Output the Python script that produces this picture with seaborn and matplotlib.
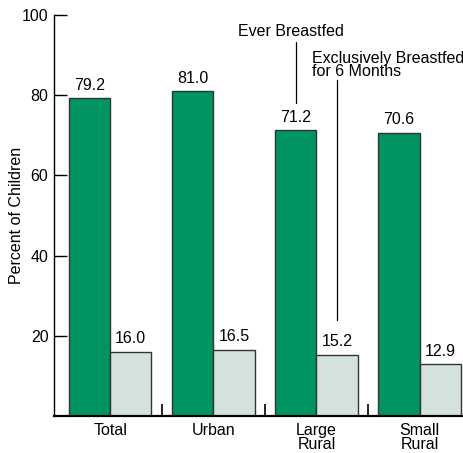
import matplotlib
matplotlib.use("Agg")
import matplotlib.pyplot as plt
import seaborn as sns
import pandas as pd

categories = ["Total", "Urban", "Large\nRural", "Small\nRural"]
ever_breastfed = [79.2, 81.0, 71.2, 70.6]
exclusive_6mo = [16.0, 16.5, 15.2, 12.9]
series_names = ["Ever Breastfed", "Exclusively Breastfed\nfor 6 Months"]
y_ticks = [20, 40, 60, 80, 100]

sns.set_style("white")
plt.rcParams['font.family'] = ['Liberation Sans', 'DejaVu Sans']
plt.rcParams['text.color'] = 'black'
plt.rcParams['axes.labelcolor'] = 'black'
plt.rcParams['xtick.color'] = 'black'
plt.rcParams['ytick.color'] = 'black'

FS = 11.5

df = pd.DataFrame({
    "cat": categories * 2,
    "val": ever_breastfed + exclusive_6mo,
    "series": [series_names[0]] * 4 + [series_names[1]] * 4,
})

green = "#009560"
light = "#d3e3dc"

fig = plt.figure(figsize=(4.64, 4.53), dpi=100)
ax = fig.add_axes([54/464, 1 - 416/453, 1 - 54/464 + 0.002, (416 - 15)/453])

sns.barplot(data=df, x="cat", y="val", hue="series", palette=[green, light],
            width=0.8, edgecolor="#333333", linewidth=1.0, legend=False, ax=ax,
            saturation=1)

ax.set_ylim(0, 100)
ax.set_xlim(-0.544, 3.44)
ax.set_yticks(y_ticks)
ax.set_yticklabels([str(t) for t in y_ticks], fontsize=FS)
ax.tick_params(axis='y', left=True, direction='in', length=9, width=1, color='black', pad=4)
ax.set_xticks(range(len(categories)))
ax.set_xticklabels(categories, fontsize=FS, linespacing=0.95)
ax.tick_params(axis='x', which='major', bottom=True, length=0, pad=5)
ax.set_xticks([0.5, 1.5, 2.5], minor=True)
ax.tick_params(axis='x', which='minor', bottom=True, direction='in', length=9, width=1.2, color='black')
ax.set_xlabel("")
ax.set_ylabel("Percent of Children", fontsize=FS, color='black')
ax.yaxis.set_label_coords(-0.074, 0.5)

for s in ["top", "right"]:
    ax.spines[s].set_visible(False)
ax.spines["left"].set_color("black")
ax.spines["bottom"].set_color("black")
ax.spines["left"].set_linewidth(1)
ax.spines["bottom"].set_linewidth(1.6)

for i, (a, b) in enumerate(zip(ever_breastfed, exclusive_6mo)):
    ax.text(i - 0.2, a + 1.4, f"{a:.1f}", ha="center", va="bottom", fontsize=FS, color='black')
    ax.text(i + 0.2, b + 1.4, f"{b:.1f}", ha="center", va="bottom", fontsize=FS, color='black')

# annotations
ax.plot([1.8, 1.8], [78.0, 93.3], color="black", lw=0.9)
ax.text(1.752, 94.0, series_names[0], ha="center", va="bottom", fontsize=FS, color='black')
ax.plot([2.2, 2.2], [24, 83.8], color="black", lw=0.9)
ax.text(1.955, 84.0, series_names[1], ha="left", va="bottom", fontsize=FS,
        linespacing=0.85, clip_on=False, color='black')

fig.savefig("out.png", dpi=100)
